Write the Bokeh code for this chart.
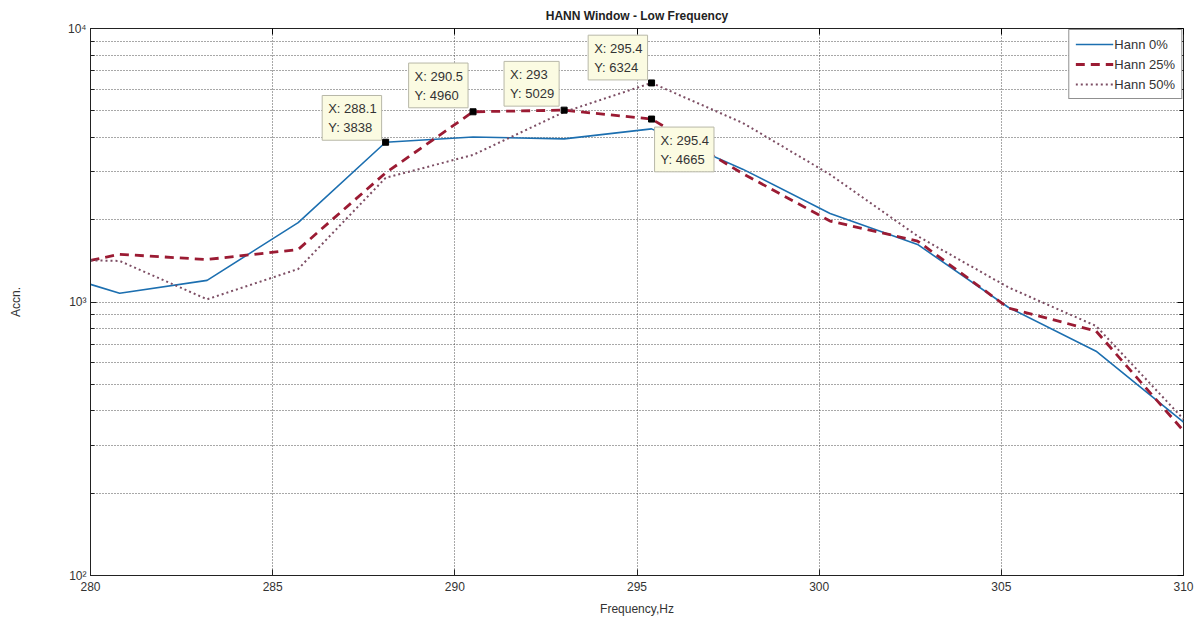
from bokeh.plotting import figure
from bokeh.models import (ColumnDataSource, Range1d, FixedTicker, LinearAxis, LogAxis,
                          Label, Legend, LegendItem)
from bokeh.embed import file_html
from bokeh.resources import INLINE

# ---- data ----
freq = [280.0, 280.8, 283.2, 285.7, 288.1, 290.5, 293.0, 295.4, 297.9, 300.3, 302.7, 305.2, 307.6, 310.0]
hann0 = [1160, 1076, 1200, 1950, 3838, 4010, 3950, 4295, 3060, 2108, 1624, 955, 661, 364]
hann25 = [1420, 1494, 1430, 1556, 2965, 4960, 5029, 4665, 2950, 1977, 1671, 950, 783, 338]
hann50 = [1420, 1413, 1023, 1320, 2844, 3450, 4950, 6324, 4518, 2925, 1742, 1130, 817, 373]
series_names = ["Hann 0%", "Hann 25%", "Hann 50%"]
x_ticks = [280, 285, 290, 295, 300, 305, 310]
y_major = [100, 1000, 10000]
y_minor = [200, 300, 400, 500, 600, 700, 800, 900,
           2000, 3000, 4000, 5000, 6000, 7000, 8000, 9000]
y_labels = {100: "10²", 1000: "10³", 10000: "10⁴"}
# data tips: (series index, point index)
tips = [(0, 4), (1, 5), (1, 6), (1, 7), (2, 7)]

FONT = "Liberation Sans"
TXT = "#333333"

src = ColumnDataSource(data=dict(f=freq, h0=hann0, h25=hann25, h50=hann50))

p = figure(width=1195, height=618, x_range=Range1d(280, 310), y_range=Range1d(100, 10000),
           y_axis_type="log", output_backend="svg", toolbar_location=None,
           title="HANN Window - Low Frequency",
           min_border_left=90, min_border_right=12, min_border_top=28, min_border_bottom=41)
p.background_fill_color = "white"
p.border_fill_color = "white"
p.outline_line_color = "#222222"
p.outline_line_width = 1

p.title.align = "center"
p.title.text_font = FONT
p.title.text_font_size = "12px"
p.title.text_font_style = "bold"
p.title.text_color = "#222222"
p.title.standoff = 12
p.title.offset = 0

# axes
xt = FixedTicker(ticks=x_ticks)
yt = FixedTicker(ticks=y_major, minor_ticks=y_minor)
p.xaxis.ticker = xt
p.yaxis.ticker = yt
p.yaxis.major_label_overrides = y_labels
for ax in (p.xaxis[0], p.yaxis[0]):
    ax.major_tick_in = 6
    ax.major_tick_out = 0
    ax.minor_tick_in = 4
    ax.minor_tick_out = 0
    ax.axis_line_color = "#222222"
    ax.major_tick_line_color = "#222222"
    ax.minor_tick_line_color = "#222222"
    ax.major_label_text_font = FONT
    ax.major_label_text_font_size = "12px"
    ax.major_label_text_color = TXT
    ax.axis_label_text_font = FONT
    ax.axis_label_text_font_size = "12px"
    ax.axis_label_text_font_style = "normal"
    ax.axis_label_text_color = TXT
p.xaxis.minor_tick_line_color = None
p.xaxis.axis_label = "Frequency,Hz"
p.xaxis.major_label_standoff = 6
p.xaxis.axis_label_standoff = 8
p.yaxis.axis_label = "Accn."
p.yaxis.major_label_standoff = 4
p.yaxis.axis_label_standoff = 42

# mirrored axes (ticks only)
top_ax = LinearAxis(ticker=FixedTicker(ticks=x_ticks), major_tick_in=6, major_tick_out=0,
                    minor_tick_line_color=None, major_label_text_font_size="0px",
                    major_label_standoff=0, axis_line_color=None)
right_ax = LogAxis(ticker=FixedTicker(ticks=y_major, minor_ticks=y_minor),
                   major_tick_in=6, major_tick_out=0, minor_tick_in=4, minor_tick_out=0,
                   major_label_text_font_size="0px", major_label_standoff=0, axis_line_color=None)
top_ax.major_label_overrides = {t: "" for t in x_ticks}
right_ax.major_label_overrides = {t: "" for t in y_major}
p.add_layout(top_ax, "above")
p.add_layout(right_ax, "right")

# grid
for g in (p.xgrid[0], p.ygrid[0]):
    g.grid_line_color = "#333333"
    g.grid_line_dash = "1 2"
    g.grid_line_alpha = 0.85
p.ygrid.minor_grid_line_color = "#333333"
p.ygrid.minor_grid_line_dash = "1 2"
p.ygrid.minor_grid_line_alpha = 0.85

# lines
colors = ["#1c6fb0", "#9b1b33", "#7d4e64"]
r0 = p.line("f", "h0", source=src, line_color=colors[0], line_width=1.6)
r1 = p.line("f", "h25", source=src, line_color=colors[1], line_width=2.8, line_dash="9 6")
r2 = p.line("f", "h50", source=src, line_color=colors[2], line_width=2.0, line_dash="2 3")

legend = Legend(items=[LegendItem(label=series_names[0], renderers=[r0]),
                       LegendItem(label=series_names[1], renderers=[r1]),
                       LegendItem(label=series_names[2], renderers=[r2])],
                location="top_right")
legend.border_line_color = "#222222"
legend.border_line_width = 1
legend.background_fill_color = "white"
legend.background_fill_alpha = 1
legend.label_text_font = FONT
legend.label_text_font_size = "13px"
legend.label_text_color = TXT
legend.glyph_width = 38
legend.glyph_height = 16
legend.label_height = 16
legend.label_standoff = 1
legend.spacing = 4
legend.padding = 6
legend.margin = 1
p.add_layout(legend)

# data tips
all_series = [hann0, hann25, hann50]
tx = [freq[i] for _, i in tips]
ty = [all_series[s][i] for s, i in tips]
p.scatter(tx, ty, marker="square", size=6, color="black")

tip_place = [  # (anchor, x_offset, y_offset)
    ("bottom_right", -4, 2),
    ("bottom_right", -5, 4),
    ("bottom_right", -5, 4),
    ("top_left", 3, -8),
    ("bottom_right", -4, 3),
]
for (s, i), (anc, xo, yo) in zip(tips, tip_place):
    txt = "X: %g\nY: %g" % (freq[i], all_series[s][i])
    lab = Label(x=freq[i], y=all_series[s][i], text=txt, anchor=anc, text_align="left",
                x_offset=xo, y_offset=yo, text_font=FONT, text_font_size="13px",
                text_color=TXT, text_line_height=1.25,
                background_fill_color="#fbfbe2", background_fill_alpha=1,
                border_line_color="#b8b8a8", border_line_width=1,
                padding=(6, 5, 6, 5))
    p.add_layout(lab)

open("out.html", "w").write(file_html(p, INLINE))
